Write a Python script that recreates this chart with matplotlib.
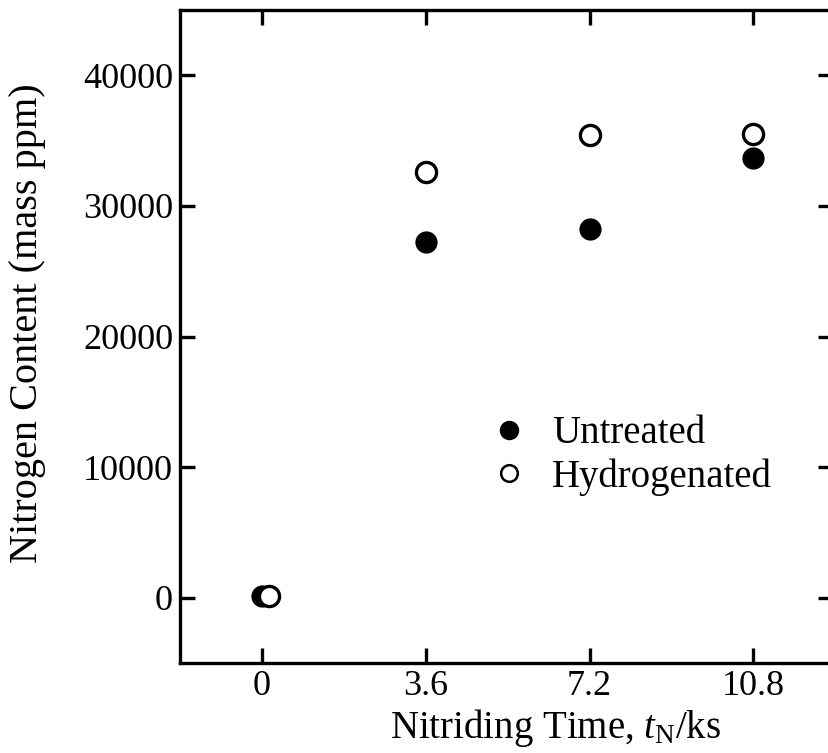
import matplotlib
matplotlib.use("Agg")
import matplotlib.pyplot as plt
from matplotlib.lines import Line2D

plt.rcParams['font.family'] = ['Liberation Serif', 'DejaVu Serif']
plt.rcParams['mathtext.fontset'] = 'custom'
plt.rcParams['mathtext.rm'] = 'Liberation Serif'
plt.rcParams['mathtext.it'] = 'Liberation Serif:italic'

# Nitriding time (ks) and nitrogen content (mass ppm)
time_untreated = [0.0, 3.6, 7.2, 10.8]
n_untreated = [150, 27200, 28200, 33700]
time_hydrogenated = [0.15, 3.6, 7.2, 10.8]
n_hydrogenated = [150, 32600, 35400, 35500]

x_ticks = [0, 3.6, 7.2, 10.8]
x_tick_labels = ['0', '3.6', '7.2', '10.8']
y_ticks = [0, 10000, 20000, 30000, 40000]

W, H = 829, 753
fig = plt.figure(figsize=(W / 100, H / 100), dpi=100)
ax = fig.add_axes([180 / W, (H - 663) / H, (833 - 180) / W, (663 - 10) / H])

ax.plot(time_untreated, n_untreated, 'o', ms=14.5, color='black', mfc='black',
        mec='black', mew=1.5, ls='none', zorder=3)
ax.plot(time_hydrogenated, n_hydrogenated, 'o', ms=14.5, color='black', mfc='white',
        mec='black', mew=2.4, ls='none', zorder=4)

ax.set_xlim(-1.8, 12.55)
ax.set_ylim(-5000, 45000)
ax.set_xticks(x_ticks)
ax.set_xticklabels(x_tick_labels)
ax.set_yticks(y_ticks)
ax.set_yticklabels([str(v) for v in y_ticks])

ax.tick_params(direction='in', length=11, width=2.4, labelsize=26,
               top=True, right=True, pad=5)
for s in ax.spines.values():
    s.set_linewidth(2.4)

ax.set_xlabel(r'Nitriding Time, $t_\mathrm{N}$/ks', fontsize=28, labelpad=3)
ax.xaxis.label.set_x(0.575)
ax.set_ylabel('Nitrogen Content (mass ppm)', fontsize=29)
ax.yaxis.set_label_coords(-0.205, 0.52)

handles = [
    Line2D([], [], marker='o', ls='none', ms=12.5, mfc='black', mec='black', mew=1.5),
    Line2D([], [], marker='o', ls='none', ms=12, mfc='white', mec='black', mew=1.8),
]
ax.legend(handles, ['Untreated', 'Hydrogenated'], loc='upper left',
          bbox_to_anchor=((470 - 180) / (833 - 180), (663 - 396) / (663 - 10)),
          frameon=False, fontsize=28, handletextpad=0.6, labelspacing=0.15,
          borderpad=0, handlelength=1.0)

fig.savefig('out.png', dpi=100)
